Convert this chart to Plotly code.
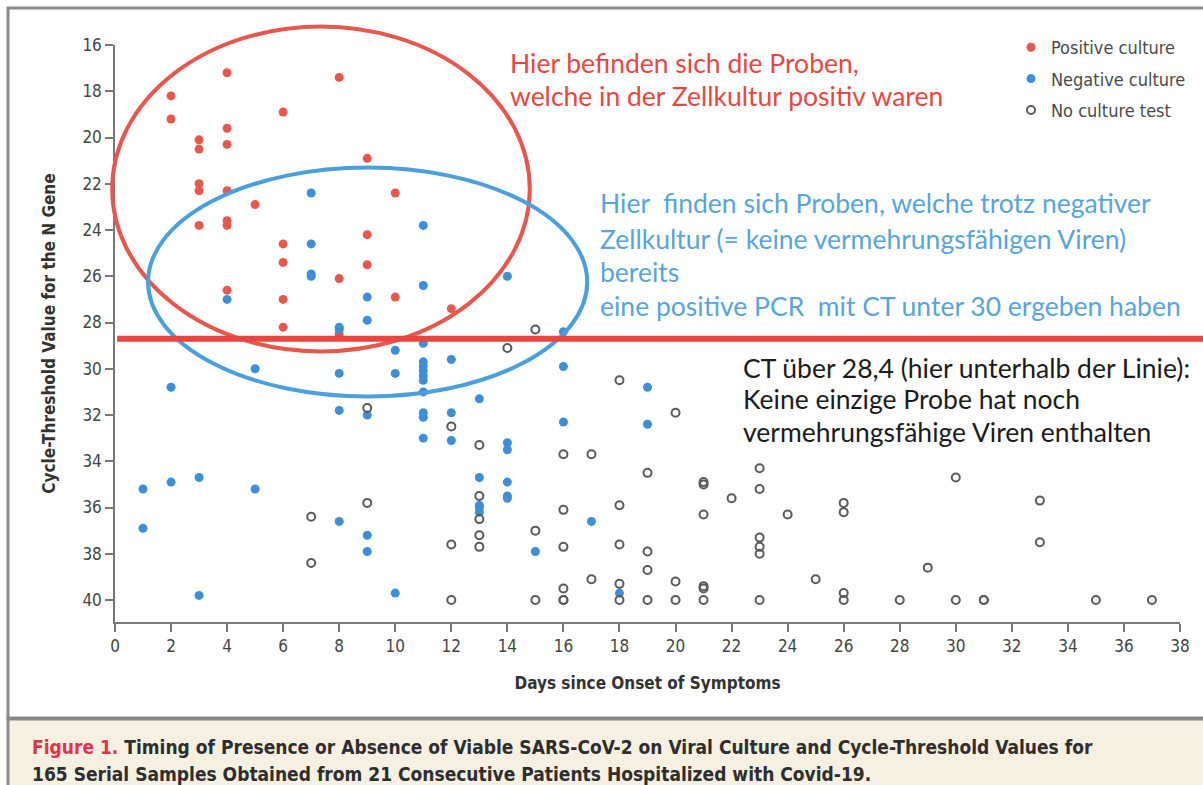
import plotly.graph_objects as go

# ---------------- data ----------------
pos_day = [2, 2, 3, 3, 3, 3, 3, 4, 4, 4, 4, 4, 4, 4, 5, 6, 6, 6, 6, 6, 8, 8, 8, 9, 9, 9, 10, 10, 12]
pos_ct = [18.2, 19.2, 20.1, 20.5, 22.0, 22.3, 23.8, 17.2, 19.6, 20.3, 22.3, 23.6, 23.8, 26.6, 22.9,
          18.9, 24.6, 25.4, 27.0, 28.2, 17.4, 26.1, 28.5, 20.9, 24.2, 25.5, 22.4, 26.9, 27.4]

neg_day = [1, 1, 2, 2, 3, 3, 4, 5, 5, 7, 7, 7, 7, 8, 8, 8, 8, 8, 9, 9, 9, 9, 9, 10, 10, 10,
           11, 11, 11, 11, 11, 11, 11, 11, 11, 11, 11, 11, 12, 12, 12, 13, 13, 13, 13, 13,
           14, 14, 14, 14, 14, 14, 15, 16, 16, 16, 17, 18, 19, 19]
neg_ct = [35.2, 36.9, 30.8, 34.9, 34.7, 39.8, 27.0, 30.0, 35.2, 22.4, 24.6, 25.9, 26.0,
          28.2, 28.3, 30.2, 31.8, 36.6, 26.9, 27.9, 32.0, 37.2, 37.9, 29.2, 30.2, 39.7,
          23.8, 26.4, 28.9, 29.7, 29.9, 30.1, 30.3, 30.5, 31.0, 31.9, 32.1, 33.0,
          29.6, 31.9, 33.1, 31.3, 34.7, 35.9, 36.0, 36.2,
          26.0, 33.2, 33.5, 34.9, 35.5, 35.6, 37.9, 28.4, 29.9, 32.3, 36.6, 39.7, 30.8, 32.4]

none_day = [7, 7, 9, 9, 12, 12, 12, 13, 13, 13, 13, 13, 14, 15, 15, 15,
            16, 16, 16, 16, 16, 16, 17, 17, 18, 18, 18, 18, 18, 19, 19, 19, 19,
            20, 20, 20, 21, 21, 21, 21, 21, 21, 22, 23, 23, 23, 23, 23, 23,
            24, 25, 26, 26, 26, 26, 28, 29, 30, 30, 31, 31, 33, 33, 35, 37]
none_ct = [36.4, 38.4, 31.7, 35.8, 32.5, 37.6, 40.0, 33.3, 35.5, 36.5, 37.2, 37.7, 29.1,
           28.3, 37.0, 40.0, 33.7, 36.1, 37.7, 39.5, 40.0, 40.0, 33.7, 39.1,
           30.5, 35.9, 37.6, 39.3, 40.0, 34.5, 37.9, 38.7, 40.0, 31.9, 39.2, 40.0,
           34.9, 35.0, 36.3, 39.4, 39.5, 40.0, 35.6, 34.3, 35.2, 37.3, 37.7, 38.0, 40.0,
           36.3, 39.1, 35.8, 36.2, 39.7, 40.0, 40.0, 38.6, 34.7, 40.0, 40.0, 40.0,
           35.7, 37.5, 40.0, 40.0]

x_ticks = list(range(0, 39, 2))
y_ticks = list(range(16, 41, 2))
threshold_ct = 28.7

# ---------------- layout geometry ----------------
FIG_W, FIG_H = 1203, 785
L, R, T, B = 115, 1180, 45, 622
W, H = R - L, B - T
X_RANGE = [0, 38]
Y_RANGE = [40.95, 16]

def px2x(px):
    return (px - L) / W

def py2y(py):
    return (B - py) / H

def dx(v):  # data x -> x domain fraction
    return (v - X_RANGE[0]) / (X_RANGE[1] - X_RANGE[0])

def dy(v):  # data y -> y domain fraction (reversed axis)
    return (Y_RANGE[0] - v) / (Y_RANGE[0] - Y_RANGE[1])

RED = "#e8574d"
BLUE = "#3e8fd6"
GRAY = "#5a5a5a"
TICKFONT = "Liberation Sans Narrow, DejaVu Sans Condensed, Lato, sans-serif"
NOTEFONT = "Lato, Open Sans, sans-serif"

fig = go.Figure()
fig.add_trace(go.Scatter(x=pos_day, y=pos_ct, mode="markers", name="Positive culture",
                         legendgroup="a",
                         marker=dict(color=RED, size=9)))
fig.add_trace(go.Scatter(x=neg_day, y=neg_ct, mode="markers", name="Negative culture",
                         legendgroup="b",
                         marker=dict(color=BLUE, size=9)))
fig.add_trace(go.Scatter(x=none_day, y=none_ct, mode="markers", name="No culture test",
                         legendgroup="c",
                         marker=dict(symbol="circle-open", color=GRAY, size=8,
                                     line=dict(width=2, color=GRAY))))

shapes = []
# outer frame
shapes.append(dict(type="rect", xref="paper", yref="paper",
                   x0=px2x(8), x1=px2x(1225), y0=py2y(718), y1=py2y(8),
                   line=dict(color="#8a8a8a", width=3), layer="below"))
# caption band
shapes.append(dict(type="rect", xref="paper", yref="paper",
                   x0=px2x(8), x1=px2x(1225), y0=py2y(800), y1=py2y(719),
                   fillcolor="#f6f0e2", line=dict(color="#8a8a8a", width=3), layer="below"))
# red ellipse (positive culture region)
shapes.append(dict(type="circle", xref="x domain", yref="y domain",
                   x0=dx(-0.1), x1=dx(14.8), y0=dy(29.25), y1=dy(15.2),
                   line=dict(color=RED, width=4)))
# blue ellipse (negative culture region)
shapes.append(dict(type="circle", xref="x", yref="y",
                   x0=1.18, x1=16.85, y0=21.3, y1=31.2,
                   line=dict(color="#4a9fdc", width=4)))
# threshold line
shapes.append(dict(type="line", xref="x domain", yref="y",
                   x0=0.002, x1=1.05, y0=threshold_ct, y1=threshold_ct,
                   line=dict(color="#ea4640", width=6)))

annotations = []
def note(text, px, py, color, size=26.5):
    annotations.append(dict(text=text, xref="paper", yref="paper", x=px2x(px), y=py2y(py),
                            xanchor="left", yanchor="middle", showarrow=False,
                            font=dict(family=NOTEFONT, size=size, color=color)))

note("Hier befinden sich die Proben,", 508, 63, "#e8473f")
note("welche in der Zellkultur positiv waren", 508, 96, "#e8473f")
note("Hier  finden sich Proben, welche trotz negativer", 598, 203, "#58a4dc")
note("Zellkultur (= keine vermehrungsfähigen Viren)", 598, 239, "#58a4dc")
note("bereits", 598, 272, "#58a4dc")
note("eine positive PCR  mit CT unter 30 ergeben haben", 598, 306, "#58a4dc")
note("CT über 28,4 (hier unterhalb der Linie):", 741, 368, "#1b1b1b")
note("Keine einzige Probe hat noch", 741, 399, "#1b1b1b")
note("vermehrungsfähige Viren enthalten", 741, 432, "#1b1b1b")

# caption
annotations.append(dict(
    text="<span style='color:#e03448'>Figure 1.</span> Timing of Presence or Absence of Viable "
         "SARS-CoV-2 on Viral Culture and Cycle-Threshold Values for",
    xref="paper", yref="paper", x=px2x(30), y=py2y(747), xanchor="left", yanchor="middle",
    showarrow=False, font=dict(family=TICKFONT, size=19, color="#2e2e2e", weight="bold")))
annotations.append(dict(
    text="165 Serial Samples Obtained from 21 Consecutive Patients Hospitalized with Covid-19.",
    xref="paper", yref="paper", x=px2x(30), y=py2y(774), xanchor="left", yanchor="middle",
    showarrow=False, font=dict(family=TICKFONT, size=19, color="#2e2e2e", weight="bold")))

fig.update_layout(
    width=FIG_W, height=FIG_H,
    margin=dict(l=L, r=FIG_W - R, t=T, b=FIG_H - B, pad=0),
    paper_bgcolor="white", plot_bgcolor="white",
    shapes=shapes, annotations=annotations,
    showlegend=True,
    legend=dict(x=px2x(1011), y=py2y(29), xanchor="left", yanchor="top",
                traceorder="grouped", tracegroupgap=5,
                font=dict(family=TICKFONT, size=18, color="#4a4a4a"),
                bgcolor="rgba(0,0,0,0)", itemwidth=30),
    xaxis=dict(range=X_RANGE, tickvals=x_ticks, ticks="outside", ticklen=8,
               tickcolor="#777", tickwidth=1.5, showline=True, linecolor="#777", linewidth=1.5,
               showgrid=False, zeroline=False,
               tickfont=dict(family=TICKFONT, size=17, color="#444"),
               title=dict(text="Days since Onset of Symptoms", standoff=22,
                          font=dict(family=TICKFONT, size=17, color="#333", weight="bold"))),
    yaxis=dict(range=Y_RANGE, tickvals=y_ticks, ticks="outside", ticklen=8,
               tickcolor="#777", tickwidth=1.5, showline=True, linecolor="#777", linewidth=1.5,
               showgrid=False, zeroline=False,
               tickfont=dict(family=TICKFONT, size=17, color="#444"),
               title=dict(text="Cycle-Threshold Value for the N Gene", standoff=22,
                          font=dict(family=TICKFONT, size=17, color="#333", weight="bold"))),
)

fig.write_html("out.html", config={"displayModeBar": False},
               post_script="document.body.style.margin='0';document.body.style.overflow='hidden';")
